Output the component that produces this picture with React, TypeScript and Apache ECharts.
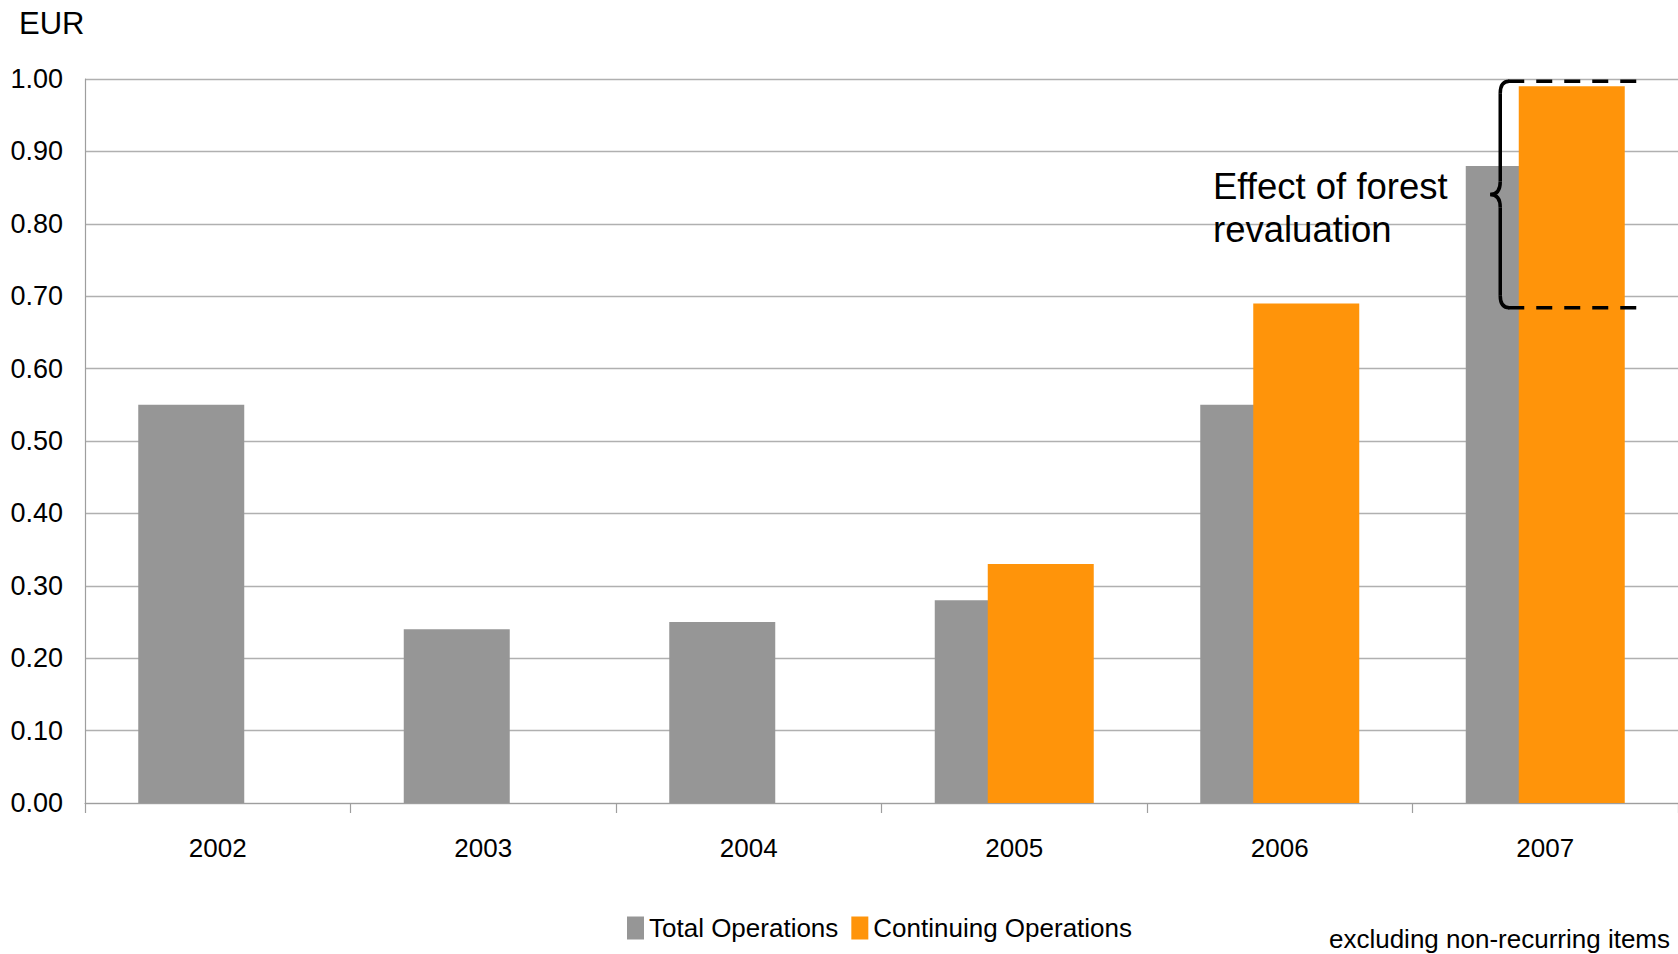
import React, { useEffect, useRef } from "react";
import * as echarts from "echarts";

const years = ["2002", "2003", "2004", "2005", "2006", "2007"];
const totalOps = [0.55, 0.24, 0.25, 0.28, 0.55, 0.88];
const continuingOps = [null, null, null, 0.33, 0.69, 0.99];
const seriesNames = ["Total Operations", "Continuing Operations"];
const braceRange = [0.684, 0.997];
const braceYear = "2007";

const NARROW = "'Liberation Sans Narrow', 'Arial Narrow', 'Liberation Sans', Arial, sans-serif";
const SANS = "'Liberation Sans', Arial, sans-serif";

export default function App() {
  const ref = useRef<HTMLDivElement>(null);
  useEffect(() => {
    document.body.style.margin = "0";
    const chart = echarts.init(ref.current!, null, { renderer: "svg" });
    const option: any = {
      animation: false,
      backgroundColor: "#ffffff",
      grid: { left: 85, right: -5, top: 79, bottom: 151, containLabel: false },
      legend: {
        data: seriesNames,
        left: 622,
        top: 910,
        icon: "rect",
        itemWidth: 17,
        itemHeight: 23,
        itemGap: 13,
        textStyle: { fontFamily: NARROW, fontSize: 26, color: "#000" },
      },
      xAxis: {
        type: "category",
        data: years,
        axisLine: { show: true, lineStyle: { color: "#9E9E9E", width: 1.2 } },
        axisTick: { show: true, length: 10, lineStyle: { color: "#9E9E9E", width: 1.2 } },
        axisLabel: { fontFamily: NARROW, fontSize: 26, color: "#000", margin: 32 },
      },
      yAxis: {
        type: "value",
        min: 0,
        max: 1,
        interval: 0.1,
        axisLine: { show: true, lineStyle: { color: "#9E9E9E", width: 1.2 } },
        axisTick: { show: false },
        splitLine: { show: true, lineStyle: { color: "#B0B0B0", width: 1.3 } },
        axisLabel: {
          fontFamily: NARROW,
          fontSize: 27,
          color: "#000",
          margin: 22,
          formatter: (v: number) => v.toFixed(2),
        },
      },
      series: [
        {
          name: seriesNames[0],
          type: "bar",
          data: totalOps,
          barWidth: 106,
          barGap: "-50%",
          itemStyle: { color: "#969696" },
        },
        {
          name: seriesNames[1],
          type: "bar",
          data: continuingOps,
          barWidth: 106,
          barGap: "-50%",
          itemStyle: { color: "#FF940A" },
        },
      ],
    };
    chart.setOption(option);

    const xc = chart.convertToPixel({ xAxisIndex: 0 }, braceYear) as number;
    const yT = chart.convertToPixel({ yAxisIndex: 0 }, braceRange[1]) as number;
    const yB = chart.convertToPixel({ yAxisIndex: 0 }, braceRange[0]) as number;
    const yM = (yT + yB) / 2;
    const xv = xc - 45;
    const lw = 3.5;
    const st = { stroke: "#000", lineWidth: lw, fill: null };
    const z = 100;

    chart.setOption({
      graphic: [
        {
          type: "text",
          left: 19,
          top: 8,
          style: { text: "EUR", fontFamily: SANS, fontSize: 31, fill: "#000" },
        },
        {
          type: "text",
          x: 1213,
          y: 165,
          z,
          style: {
            text: "Effect of forest\nrevaluation",
            fontFamily: SANS,
            fontSize: 36.5,
            lineHeight: 43,
            fill: "#000",
            verticalAlign: "top",
          },
        },
        {
          type: "text",
          x: 1670,
          y: 939,
          style: {
            text: "excluding non-recurring items",
            fontFamily: SANS,
            fontSize: 26,
            fill: "#000",
            align: "right",
            verticalAlign: "middle",
          },
        },
        { type: "bezierCurve", z, shape: { x1: xv + 9, y1: yT, x2: xv, y2: yT + 12, cpx1: xv, cpy1: yT }, style: st },
        { type: "line", z, shape: { x1: xv, y1: yT + 12, x2: xv, y2: yM - 13 }, style: st },
        { type: "bezierCurve", z, shape: { x1: xv, y1: yM - 13, x2: xv - 10, y2: yM, cpx1: xv, cpy1: yM }, style: st },
        { type: "bezierCurve", z, shape: { x1: xv - 10, y1: yM, x2: xv, y2: yM + 13, cpx1: xv, cpy1: yM }, style: st },
        { type: "line", z, shape: { x1: xv, y1: yM + 13, x2: xv, y2: yB - 12 }, style: st },
        { type: "bezierCurve", z, shape: { x1: xv, y1: yB - 12, x2: xv + 9, y2: yB, cpx1: xv, cpy1: yB }, style: st },
        {
          type: "line",
          z,
          shape: { x1: xv + 8, y1: yT, x2: xc + 93, y2: yT },
          style: { ...st, lineDash: [16, 12] },
        },
        {
          type: "line",
          z,
          shape: { x1: xv + 8, y1: yB, x2: xc + 93, y2: yB },
          style: { ...st, lineDash: [16, 12] },
        },
      ],
    });

    return () => chart.dispose();
  }, []);
  return (
    <div
      ref={ref}
      style={{ position: "fixed", left: 0, top: 0, width: 1678, height: 954 }}
    />
  );
}
